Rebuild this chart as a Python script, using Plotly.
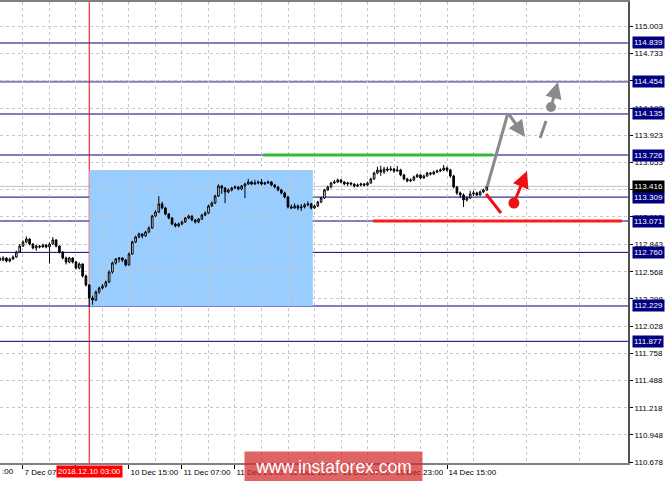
import plotly.graph_objects as go

# ---------------- data ----------------
bars = list(range(148))  # hourly bars, bar 0 = 7 Dec 00:00

opens = [112.700, 112.684, 112.704, 112.674, 112.694, 112.714, 112.764, 112.823, 112.863, 112.893,
         112.843, 112.804, 112.823, 112.814, 112.833, 112.814, 112.843, 112.883, 112.823, 112.764,
         112.704, 112.664, 112.704, 112.664, 112.605, 112.645, 112.526, 112.436, 112.307, 112.287,
         112.367, 112.406, 112.426, 112.466, 112.565, 112.655, 112.694, 112.704, 112.684, 112.635,
         112.744, 112.863, 112.913, 112.943, 112.923, 112.963, 113.002, 113.121, 113.161, 113.241,
         113.201, 113.141, 113.101, 113.042, 113.022, 113.042, 113.062, 113.101, 113.121, 113.081,
         113.062, 113.091, 113.131, 113.151, 113.221, 113.250, 113.320, 113.419, 113.399, 113.360,
         113.380, 113.399, 113.409, 113.389, 113.419, 113.439, 113.459, 113.439, 113.449, 113.459,
         113.439, 113.449, 113.459, 113.429, 113.409, 113.380, 113.350, 113.310, 113.211, 113.201,
         113.221, 113.201, 113.211, 113.231, 113.241, 113.201, 113.221, 113.260, 113.300, 113.380,
         113.409, 113.449, 113.459, 113.479, 113.459, 113.439, 113.449, 113.439, 113.419, 113.429,
         113.439, 113.429, 113.449, 113.489, 113.548, 113.578, 113.558, 113.588, 113.578, 113.588,
         113.568, 113.578, 113.529, 113.489, 113.469, 113.479, 113.509, 113.529, 113.499, 113.519,
         113.548, 113.538, 113.558, 113.568, 113.578, 113.598, 113.578, 113.519, 113.409, 113.350,
         113.330, 113.280, 113.300, 113.340, 113.350, 113.330, 113.360, 113.380]

closes = [112.684, 112.704, 112.674, 112.694, 112.714, 112.764, 112.823, 112.863, 112.893, 112.843,
          112.804, 112.823, 112.814, 112.833, 112.814, 112.843, 112.883, 112.823, 112.764, 112.704,
          112.664, 112.704, 112.664, 112.605, 112.645, 112.526, 112.436, 112.307, 112.287, 112.367,
          112.406, 112.426, 112.466, 112.565, 112.655, 112.694, 112.704, 112.684, 112.635, 112.744,
          112.863, 112.913, 112.943, 112.923, 112.963, 113.002, 113.121, 113.161, 113.241, 113.201,
          113.141, 113.101, 113.042, 113.022, 113.042, 113.062, 113.101, 113.121, 113.081, 113.062,
          113.091, 113.131, 113.151, 113.221, 113.250, 113.320, 113.419, 113.399, 113.360, 113.380,
          113.399, 113.409, 113.389, 113.419, 113.439, 113.459, 113.439, 113.449, 113.459, 113.439,
          113.449, 113.459, 113.429, 113.409, 113.380, 113.350, 113.310, 113.211, 113.201, 113.221,
          113.201, 113.211, 113.231, 113.241, 113.201, 113.221, 113.260, 113.300, 113.380, 113.409,
          113.449, 113.459, 113.479, 113.459, 113.439, 113.449, 113.439, 113.419, 113.429, 113.439,
          113.429, 113.449, 113.489, 113.548, 113.578, 113.558, 113.588, 113.578, 113.588, 113.568,
          113.578, 113.529, 113.489, 113.469, 113.479, 113.509, 113.529, 113.499, 113.519, 113.548,
          113.538, 113.558, 113.568, 113.578, 113.598, 113.578, 113.519, 113.409, 113.350, 113.330,
          113.280, 113.300, 113.340, 113.350, 113.330, 113.360, 113.380, 113.416]

highs = [112.718, 112.722, 112.712, 112.708, 112.730, 112.778, 112.842, 112.880, 112.918, 112.902,
         112.852, 112.838, 112.834, 112.846, 112.842, 112.860, 112.912, 112.892, 112.830, 112.772,
         112.718, 112.716, 112.712, 112.676, 112.660, 112.650, 112.540, 112.446, 112.330, 112.380,
         112.420, 112.446, 112.480, 112.580, 112.668, 112.704, 112.712, 112.712, 112.696, 112.760,
         112.876, 112.926, 112.956, 112.952, 112.975, 113.018, 113.134, 113.178, 113.318, 113.262,
         113.212, 113.150, 113.110, 113.056, 113.056, 113.076, 113.112, 113.134, 113.128, 113.092,
         113.102, 113.142, 113.168, 113.234, 113.266, 113.334, 113.436, 113.430, 113.410, 113.394,
         113.412, 113.424, 113.420, 113.430, 113.452, 113.490, 113.470, 113.480, 113.472, 113.488,
         113.462, 113.474, 113.468, 113.440, 113.420, 113.392, 113.362, 113.322, 113.236, 113.246,
         113.236, 113.240, 113.248, 113.266, 113.252, 113.236, 113.272, 113.312, 113.392, 113.422,
         113.462, 113.478, 113.494, 113.488, 113.468, 113.462, 113.458, 113.446, 113.444, 113.452,
         113.450, 113.462, 113.502, 113.562, 113.610, 113.620, 113.610, 113.612, 113.616, 113.600,
         113.618, 113.590, 113.540, 113.500, 113.494, 113.522, 113.542, 113.540, 113.532, 113.560,
         113.560, 113.572, 113.582, 113.594, 113.628, 113.612, 113.590, 113.530, 113.420, 113.364,
         113.346, 113.316, 113.370, 113.370, 113.362, 113.374, 113.392, 113.428]

lows = [112.668, 112.672, 112.660, 112.662, 112.684, 112.706, 112.756, 112.815, 112.852, 112.830,
        112.790, 112.776, 112.800, 112.806, 112.800, 112.650, 112.836, 112.810, 112.748, 112.690,
        112.640, 112.652, 112.650, 112.590, 112.590, 112.510, 112.420, 112.222, 112.240, 112.275,
        112.350, 112.392, 112.410, 112.456, 112.550, 112.640, 112.660, 112.664, 112.620, 112.628,
        112.736, 112.852, 112.900, 112.900, 112.915, 112.950, 112.995, 113.110, 113.150, 113.188,
        113.128, 113.090, 113.030, 113.008, 113.010, 113.030, 113.052, 113.090, 113.070, 113.046,
        113.050, 113.082, 113.120, 113.140, 113.210, 113.240, 113.310, 113.340, 113.250, 113.346,
        113.366, 113.388, 113.376, 113.378, 113.300, 113.430, 113.426, 113.430, 113.436, 113.426,
        113.430, 113.440, 113.416, 113.396, 113.366, 113.336, 113.296, 113.196, 113.188, 113.192,
        113.180, 113.172, 113.196, 113.218, 113.186, 113.190, 113.210, 113.248, 113.290, 113.370,
        113.398, 113.440, 113.450, 113.446, 113.426, 113.420, 113.424, 113.404, 113.408, 113.416,
        113.414, 113.418, 113.440, 113.480, 113.536, 113.520, 113.540, 113.560, 113.566, 113.550,
        113.560, 113.516, 113.476, 113.456, 113.460, 113.466, 113.500, 113.486, 113.490, 113.510,
        113.524, 113.530, 113.548, 113.560, 113.566, 113.560, 113.500, 113.396, 113.330, 113.300,
        113.211, 113.266, 113.290, 113.320, 113.318, 113.322, 113.350, 113.372]

# price axis tick labels
price_ticks = [115.003, 114.733, 114.463, 114.192, 113.923, 113.653, 113.383, 113.113, 112.843,
               112.568, 112.298, 112.028, 111.758, 111.488, 111.218, 110.948, 110.678]

# time axis labels (bar index -> label)
time_tick_bars = [7, 23, 39, 55, 71, 87, 103, 119, 135]
time_tick_text = ["7 Dec 07:00", "7 Dec 23:00", "10 Dec 15:00", "11 Dec 07:00", "11 Dec 23:00",
                  "12 Dec 15:00", "13 Dec 07:00", "13 Dec 23:00", "14 Dec 15:00"]

# horizontal levels
levels = [114.839, 114.454, 114.135, 113.726, 113.309, 113.071, 112.760, 112.229, 111.877]
soft_levels = [114.454, 114.135, 113.726, 113.071, 112.229]
current_price = 113.416

# range box and level segments
box_bars = [27, 94.5]
box_prices = [112.229, 113.578]
resist_bars = [79.5, 148.9]
resist_price = 113.726
support_bars = [112.7, 187.8]
support_price = 113.071
cursor_bar = 27
cursor_label = "2018.12.10 03:00"

# forecast scenario (grey = bullish, red = alternative)
grey_path_bars = [147.1, 153.4, 158.55]
grey_path_prices = [113.409, 114.144, 113.906]
grey_dash_bars = [163.1, 164.9]
grey_dash_prices = [113.896, 114.065]
grey_dot = (166.4, 114.204)
grey_tip = (168.5, 114.452)
red_path_bars = [146.8, 151.3]
red_path_prices = [113.340, 113.151]
red_dot = (155.2, 113.250)
red_tip = (159.15, 113.568)

# ---------------- figure ----------------
FONT = "Liberation Sans, Arial, sans-serif"
NAVY = "#00007f"
GREY = "#8a8a8a"

fig = go.Figure()

fig.add_trace(go.Candlestick(
    x=bars, open=opens, high=highs, low=lows, close=closes,
    increasing=dict(line=dict(color="black", width=1), fillcolor="white"),
    decreasing=dict(line=dict(color="black", width=1), fillcolor="black"),
    whiskerwidth=0, showlegend=False, hoverinfo="skip"))

# dots of the scenario arrows
fig.add_trace(go.Scatter(x=[grey_dot[0]], y=[grey_dot[1]], mode="markers",
                         marker=dict(size=10, color=GREY), showlegend=False, hoverinfo="skip"))
fig.add_trace(go.Scatter(x=[red_dot[0]], y=[red_dot[1]], mode="markers",
                         marker=dict(size=11, color="#ee1111"), showlegend=False, hoverinfo="skip"))

shapes = []
# blue range box
shapes.append(dict(type="rect", xref="x", yref="y", x0=box_bars[0], x1=box_bars[1],
                   y0=box_prices[0], y1=box_prices[1], fillcolor="#99ccff",
                   line=dict(width=0), layer="below"))
# current price line
shapes.append(dict(type="line", xref="paper", yref="y", x0=0, x1=1, y0=current_price, y1=current_price,
                   line=dict(color="#c0c0c0", width=1), layer="between"))
# navy levels
for lv in levels:
    if lv in soft_levels:
        ln = dict(color="rgba(40,40,150,0.6)", width=2)
    else:
        ln = dict(color=NAVY, width=1)
    shapes.append(dict(type="line", xref="paper", yref="y", x0=0, x1=1, y0=lv, y1=lv,
                       line=ln, layer="between"))
# cursor line
shapes.append(dict(type="line", xref="x", yref="paper", x0=cursor_bar, x1=cursor_bar, y0=0, y1=1,
                   line=dict(color="#ff0000", width=1), layer="between"))
# green and red segments
shapes.append(dict(type="line", xref="x", yref="y", x0=resist_bars[0], x1=resist_bars[1],
                   y0=resist_price, y1=resist_price, line=dict(color="#33bb33", width=3)))
shapes.append(dict(type="line", xref="x", yref="y", x0=support_bars[0], x1=support_bars[1],
                   y0=support_price, y1=support_price, line=dict(color="#ff1a1a", width=3)))
# forecast strokes
shapes.append(dict(type="line", xref="x", yref="y", x0=grey_path_bars[0], x1=grey_path_bars[1],
                   y0=grey_path_prices[0], y1=grey_path_prices[1], line=dict(color=GREY, width=3)))
shapes.append(dict(type="line", xref="x", yref="y", x0=grey_dash_bars[0], x1=grey_dash_bars[1],
                   y0=grey_dash_prices[0], y1=grey_dash_prices[1], line=dict(color=GREY, width=3)))
shapes.append(dict(type="line", xref="x", yref="y", x0=red_path_bars[0], x1=red_path_bars[1],
                   y0=red_path_prices[0], y1=red_path_prices[1], line=dict(color="#ee1111", width=3)))

annotations = []
# arrows
def arrow(tail, tip, color):
    return dict(x=tip[0], y=tip[1], ax=tail[0], ay=tail[1], xref="x", yref="y",
                axref="x", ayref="y", showarrow=True, arrowhead=2, arrowsize=1.1,
                arrowwidth=3, arrowcolor=color, text="")

annotations.append(arrow((grey_path_bars[1], grey_path_prices[1]),
                         (grey_path_bars[2], grey_path_prices[2]), GREY))
annotations.append(arrow(grey_dot, grey_tip, GREY))
annotations.append(arrow(red_dot, red_tip, "#ee1111"))

# level labels on the price axis
for lv in levels:
    annotations.append(dict(x=1, xref="paper", y=lv, yref="y", xanchor="left", yanchor="middle",
                            xshift=4, text=f"{lv:.3f}", showarrow=False, bgcolor="#000080",
                            borderpad=1, font=dict(family=FONT, size=8, color="white")))
annotations.append(dict(x=1, xref="paper", y=current_price, yref="y", xanchor="left",
                        yanchor="middle", xshift=4, text=f"{current_price:.3f}", showarrow=False,
                        bgcolor="black", borderpad=1, font=dict(family=FONT, size=8, color="white")))

# cut-off label at the left edge
annotations.append(dict(x=0, xref="paper", y=0, yref="paper", xanchor="left", yanchor="top",
                        yshift=-2, text=":00", showarrow=False,
                        font=dict(family=FONT, size=8, color="black")))
# cursor time label
annotations.append(dict(x=cursor_bar, xref="x", y=0, yref="paper", xanchor="center", yanchor="top",
                        yshift=-2, text=cursor_label, showarrow=False, bgcolor="#ff0000",
                        borderpad=1, font=dict(family=FONT, size=8, color="white")))
# watermark
annotations.append(dict(x=333 / 628, xref="paper", y=-0.009, yref="paper", xanchor="center",
                        yanchor="middle", text="www.instaforex.com", showarrow=False,
                        bgcolor="rgba(210,40,40,0.72)", width=177, height=30, borderpad=0,
                        font=dict(family=FONT, size=17.5, color="white")))

fig.update_layout(
    width=665, height=481,
    margin=dict(l=0, r=37, t=2, b=18, autoexpand=False),
    paper_bgcolor="white", plot_bgcolor="white",
    shapes=shapes, annotations=annotations,
    showlegend=False,
    font=dict(family=FONT, size=8, color="black"),
    xaxis=dict(
        range=[0.06, 189.64], rangeslider=dict(visible=False), automargin=False,
        tickmode="array", tickvals=time_tick_bars, ticktext=time_tick_text, tickangle=0,
        ticklabelposition="outside right", ticks="outside", ticklen=4, tickcolor="black",
        tickfont=dict(family=FONT, size=8, color="black"),
        showgrid=True, gridcolor="#c8c8c8", griddash="3px,3px", gridwidth=1,
        minor=dict(tickmode="linear", tick0=15, dtick=16, showgrid=True, gridcolor="#c8c8c8",
                   griddash="3px,3px", ticks=""),
        showline=True, linecolor="#808080", linewidth=2, mirror=True,
        zeroline=False, fixedrange=True),
    yaxis=dict(
        range=[110.669, 115.246], side="right", automargin=False,
        tickmode="array", tickvals=price_ticks, ticktext=[f"{v:.3f}" for v in price_ticks],
        ticks="outside", ticklen=3, tickcolor="black",
        tickfont=dict(family=FONT, size=8, color="black"),
        showgrid=True, gridcolor="#c8c8c8", griddash="3px,3px", gridwidth=1,
        showline=True, linecolor="#505050", linewidth=2,
        zeroline=False, fixedrange=True),
)

fig.write_html("out.html", config={"displayModeBar": False},
               post_script="document.body.style.margin='0';document.body.style.padding='0';")
